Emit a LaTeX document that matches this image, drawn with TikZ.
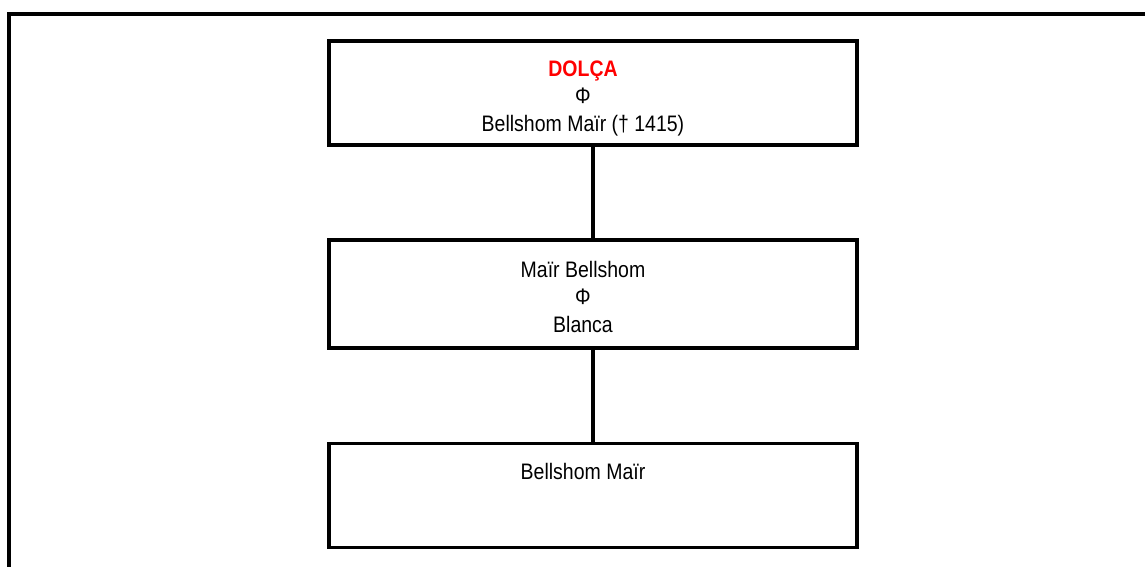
\documentclass[tikz,border=0pt]{standalone}
\usepackage{fontspec}
\setmainfont[FakeStretch=0.87]{Liberation Sans}
\usepackage{tikz}
\usetikzlibrary{positioning}
\newcommand{\famtxt}[1]{\raisebox{-2.75pt}[\height][\depth]{\begin{tabular}{@{}c@{}}#1\end{tabular}}\hspace*{10pt}}

\begin{document}
\begin{tikzpicture}[x=1pt, y=1pt, node distance=46pt, person/.style={draw, line width=1.7pt, minimum width=264pt, minimum height=52pt, inner sep=0pt, font=\fontsize{11.2}{13.75}\selectfont}, link/.style={line width=1.7pt}]
	\useasboundingbox (0,0) rectangle (572.5,283.5);
	\draw[line width=2pt] (4.5,-3) |- (576,276.5);
	\node[person] (dolca) at (296.5,237) {\famtxt{{\color{red}\bfseries DOLÇA}\\Φ\\Bellshom Maïr († 1415)}};
	\node[person, minimum height=54pt, below=45.75pt of dolca] (mair) {\famtxt{Maïr Bellshom\\Φ\\Blanca}};
	\node[person, below=46.25pt of mair] (bellshom) {\famtxt{Bellshom Maïr\\ \\ \mbox{}}};
	\draw[link] (dolca) -- (mair);
	\draw[link] (mair) -- (bellshom);
\end{tikzpicture}
\end{document}
